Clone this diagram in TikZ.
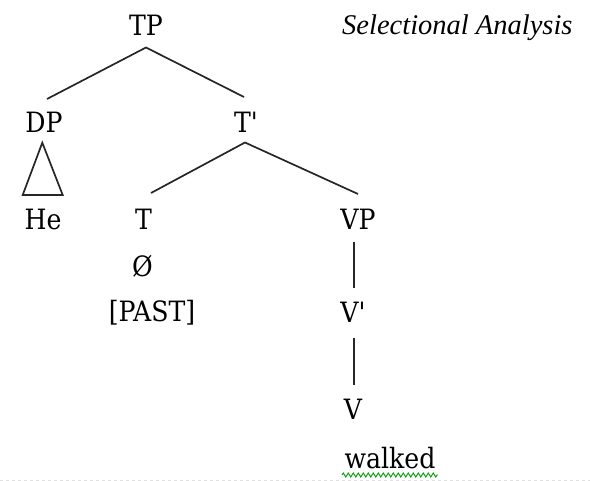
\documentclass[tikz,border=0pt]{standalone}
\usepackage{fontspec}
\setmainfont{Liberation Serif}
\newfontfamily\treefont[Ligatures=NoCommon]{DejaVu Serif Condensed}
\usetikzlibrary{decorations.pathmorphing}
\begin{document}
\begin{tikzpicture}[x=1pt,y=-1pt,
  lbl/.style={anchor=base,inner sep=0pt,font=\fontsize{28}{34}\treefont},
  edge/.style={line width=1.7pt,black!85},
  title/.style={anchor=base west,inner sep=0pt,font=\fontsize{28.5}{34}\selectfont\itshape}]
\useasboundingbox (0,0) rectangle (590,481);
\node[lbl] (TP) at (146,36) {TP};
\node[lbl] (DP) at (44,133) {DP};
\node[lbl] (Tb) at (246,133) {T\char"27};
\node[lbl] (He) at (43,230) {He};
\node[lbl] (T) at (143.5,230) {T};
\node[lbl] (VP) at (358,230) {VP};
\node[lbl] (null) at (142.5,277) {Ø};
\node[lbl] (past) at (152,322) {[PAST]};
\node[lbl] (Vb) at (353,323) {V\char"27};
\node[lbl] (V) at (353,420) {V};
\node[lbl] (walked) at (390,468) {walked};
\node[title] (ttl) at (342,35) {Selectional Analysis};
\coordinate (a1) at (146,47.5);
\coordinate (a2) at (245,142.5);
\draw[edge] (47,99) -- (a1) -- (244,97);
\draw[edge] (151,193) -- (a2) -- (358,194);
\draw[edge] (42.3,142.7) -- (22.7,195) -- (62.7,195) -- cycle;
\draw[edge] (354,241.7) -- (354,288.3);
\draw[edge] (354,338) -- (354,385);
\draw[green!60!black,line width=0.9pt,decorate,decoration={zigzag,segment length=5pt,amplitude=2pt}] (342,475) -- (438,475);
\draw[black!12,line width=0.8pt,dashed] (0,480) -- (590,480);
\end{tikzpicture}
\end{document}
